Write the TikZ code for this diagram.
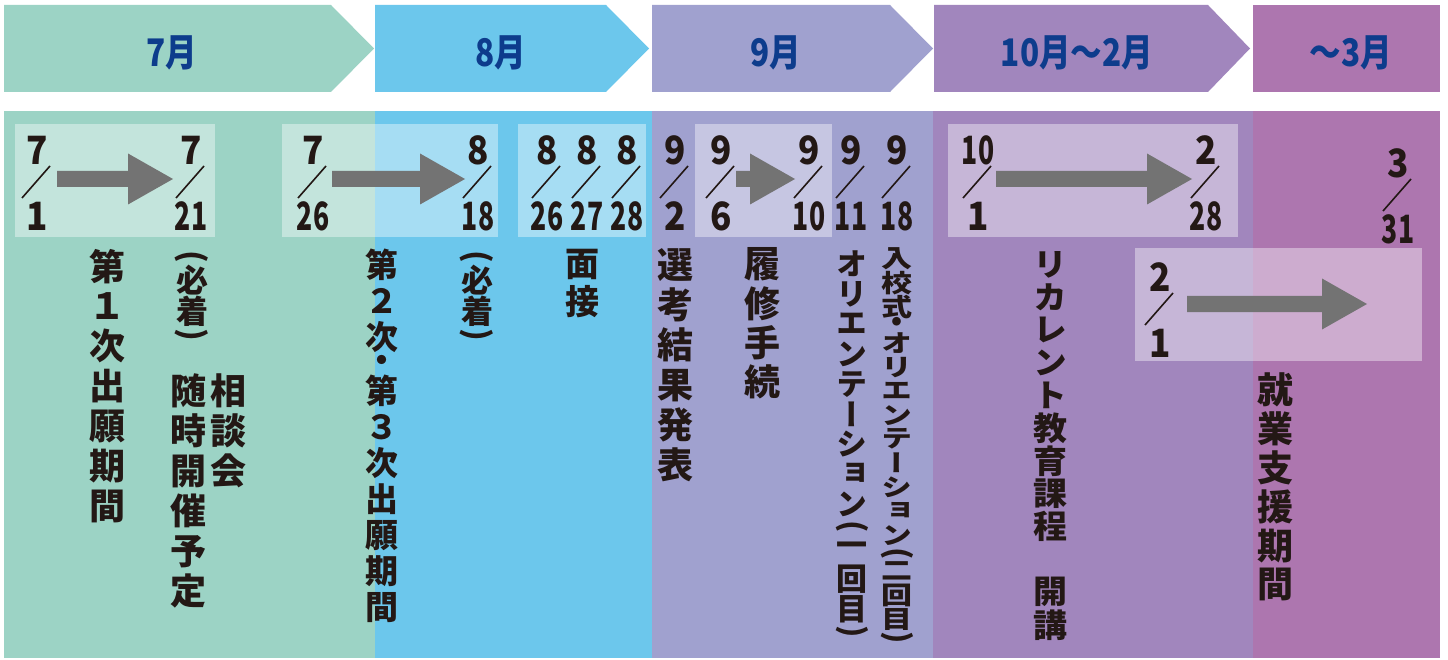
\documentclass[tikz,border=0pt]{standalone}
\usepackage{fontspec}
\usepackage{graphicx}
\usetikzlibrary{calc}
\newfontfamily\cjk{Noto Sans CJK JP}
\newfontfamily\cjkv{Noto Sans CJK JP}[RawFeature=+vert]
\definecolor{cgreen}{HTML}{9CD3C5}
\definecolor{cblue}{HTML}{6CC7EC}
\definecolor{clav}{HTML}{A0A1CF}
\definecolor{cpur}{HTML}{A186BD}
\definecolor{cmag}{HTML}{AD76AF}
\definecolor{hdtext}{HTML}{0D3C8C}
\definecolor{inkc}{HTML}{231815}
\definecolor{agray}{HTML}{737373}

\makeatletter
\newcommand\vtxt[4]{%
 \vbox{\offinterlineskip\cjkv\bfseries\fontsize{#2}{#2}\selectfont
 \def\vt@p{#1}\def\vt@s{#3}\dimen@=#2pt\relax\edef\vt@w{\the\dimexpr 12\dimen@/10\relax}%
 \vt@loop#4\relax}}
\def\vt@loop#1{\ifx#1\relax\else\vt@put#1\expandafter\vt@loop\fi}
\def\vt@put#1{%
 \ifx#1(\vt@cell{.5}{\rotatebox{-90}{\cjk\bfseries(}}%
 \else\ifx#1)\vt@cell{.5}{\rotatebox{-90}{\cjk\bfseries)}}%
 \else\ifx#1・\vt@cell{.5}{#1}%
 \else\vt@cell{1}{\scalebox{1}[\vt@s]{#1}}\fi\fi\fi}
\def\vt@cell#1#2{\hbox to \vt@w{\hss\vbox to #1\dimexpr\vt@p pt\relax{\vss\hbox{#2}\vss}\hss}}
\makeatother

\newcommand\sg[1]{\scalebox{0.9}[1]{#1}}
\newcommand\tw[1]{\scalebox{0.68}[1]{#1}}

\newcommand\dte[5]{%
 \node[dnum] (#1n) at (#2,#3) {#4};
 \node[dnum] (#1d) at (#2,#3+66) {#5};
 \draw[dslash] (#2-15,#3+48) -- (#2+13,#3+16);}

\newcommand\bigarrow[2]{%
 \fill[agray] ($(#1)+(0,-8)$) -- ($(#2)+(-45,-8)$) -- ($(#2)+(-45,-25.5)$) -- (#2)
   -- ($(#2)+(-45,25.5)$) -- ($(#2)+(-45,8)$) -- ($(#1)+(0,8)$) -- cycle;}

\begin{document}
\begin{tikzpicture}[x=1pt,y=-1pt,
  vt/.style={inner sep=0pt, text=inkc, anchor=north},
  dnum/.style={inner sep=0pt, text=inkc, font=\cjk\bfseries\fontsize{39}{39}\selectfont},
  dslash/.style={draw=inkc, line width=1.6pt},
  hd/.style={inner sep=0pt, text=hdtext, font=\cjk\bfseries\fontsize{38}{38}\selectfont},
  lbox/.style={fill=white, fill opacity=0.4}]
\useasboundingbox (0,0) rectangle (1448,660);
\fill[white] (0,0) rectangle (1448,660);

% header chevrons
\fill[cgreen] (4,5) -- (331,5) -- (374,48.5) -- (331,92) -- (4,92) -- cycle;
\fill[cblue] (375,5) -- (606,5) -- (649,48.5) -- (606,92) -- (375,92) -- cycle;
\fill[clav] (652,5) -- (890,5) -- (933,48.5) -- (890,92) -- (652,92) -- cycle;
\fill[cpur] (934,5) -- (1208,5) -- (1250,48.5) -- (1208,92) -- (934,92) -- cycle;
\fill[cmag] (1253,5) rectangle (1440,92);
\node[hd] (h1) at (172,53) {\scalebox{0.83}[1]{7月}};
\node[hd] (h2) at (501,53) {\scalebox{0.83}[1]{8月}};
\node[hd] (h3) at (776,53) {\scalebox{0.83}[1]{9月}};
\node[hd] (h4) at (1077,53) {\scalebox{0.83}[1]{10月〜2月}};
\node[hd] (h5) at (1351,53) {\scalebox{0.83}[1]{〜3月}};

% body columns
\fill[cgreen] (4,111) rectangle (375,658);
\fill[cblue] (375,111) rectangle (652,658);
\fill[clav] (652,111) rectangle (933,658);
\fill[cpur] (933,111) rectangle (1253,658);
\fill[cmag] (1253,111) rectangle (1440,658);

% light boxes
\fill[lbox] (15,124) rectangle (215,237);
\fill[lbox] (282,124) rectangle (498,237);
\fill[lbox] (518,124) rectangle (646,237);
\fill[lbox] (695,124) rectangle (832,237);
\fill[lbox] (948,124) rectangle (1238,237);
\fill[lbox] (1135,248) rectangle (1422,361);

% dates
\dte{d1}{37}{150}{\sg{7}}{\sg{1}}
\dte{d2}{191}{150}{\sg{7}}{\tw{21}}
\dte{d3}{313}{150}{\sg{7}}{\tw{26}}
\dte{d4}{478}{150}{\sg{8}}{\tw{18}}
\dte{d5}{547}{150}{\sg{8}}{\tw{26}}
\dte{d6}{587}{150}{\sg{8}}{\tw{27}}
\dte{d7}{627}{150}{\sg{8}}{\tw{28}}
\dte{d8}{675}{150}{\sg{9}}{\sg{2}}
\dte{d9}{721}{150}{\sg{9}}{\sg{6}}
\dte{d10}{809}{150}{\sg{9}}{\tw{10}}
\dte{d11}{851}{150}{\sg{9}}{\tw{11}}
\dte{d12}{897}{150}{\sg{9}}{\tw{18}}
\dte{d13}{978}{150}{\tw{10}}{\sg{1}}
\dte{d14}{1206}{150}{\sg{2}}{\tw{28}}
\dte{d15}{1398}{163}{\sg{3}}{\tw{31}}
\dte{d16}{1160}{277}{\sg{2}}{\sg{1}}

% arrows
\coordinate (a1s) at (57,179);  \coordinate (a1e) at (173,179);
\coordinate (a2s) at (332,179); \coordinate (a2e) at (465,179);
\coordinate (a3s) at (736,179); \coordinate (a3e) at (795,179);
\coordinate (a5s) at (996,179); \coordinate (a5e) at (1192,179);
\coordinate (a6s) at (1187,304); \coordinate (a6e) at (1367,304);
\bigarrow{a1s}{a1e}
\bigarrow{a2s}{a2e}
\bigarrow{a3s}{a3e}
\bigarrow{a5s}{a5e}
\bigarrow{a6s}{a6e}

% vertical texts
\node[vt] (cA) at (107,246) {\vtxt{40}{36}{1}{第１次出願期間}};
\node[vt] (cB) at (192,249) {\vtxt{31}{32}{1}{(必着)}};
\node[vt] (cC) at (228,371) {\vtxt{40}{36}{1}{相談会}};
\node[vt] (cD) at (188,371) {\vtxt{40}{36}{1}{随時開催予定}};
\node[vt] (cE) at (382,247) {\vtxt{36}{33}{1}{第２次・第３次出願期間}};
\node[vt] (cF) at (477,249) {\vtxt{31}{32}{1}{(必着)}};
\node[vt] (cG) at (582,246) {\vtxt{37}{34}{1}{面接}};
\node[vt] (cH) at (675,245) {\vtxt{40}{36}{1}{選考結果発表}};
\node[vt] (cI) at (762,245) {\vtxt{39}{36}{1}{履修手続}};
\node[vt] (cJ) at (852,249) {\vtxt{30}{31}{1}{オリエンテーション(一回目)}};
\node[vt] (cK) at (897,247) {\vtxt{24}{31}{0.8}{入校式・オリエンテーション(二回目)}};
\node[vt] (cL) at (1050,248) {\vtxt{32.75}{34}{0.95}{リカレント教育課程　開講}};
\node[vt] (cM) at (1275,370) {\vtxt{39}{36}{1}{就業支援期間}};
\end{tikzpicture}
\end{document}
